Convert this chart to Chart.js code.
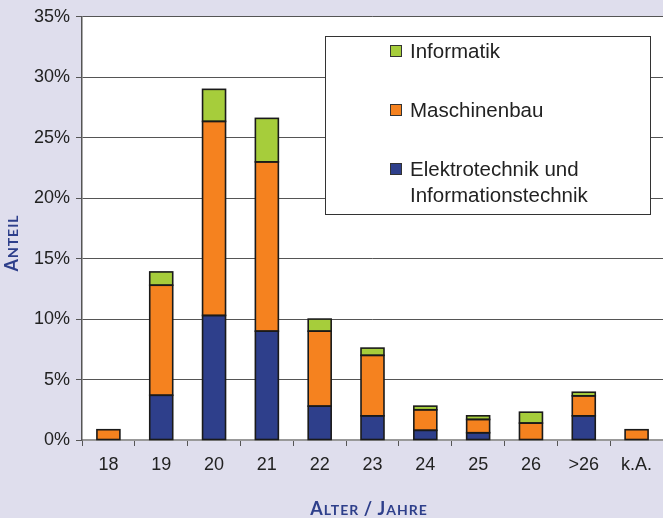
<!DOCTYPE html>
<html>
<head>
<meta charset="utf-8">
<script src="https://cdn.jsdelivr.net/npm/chart.js@4"></script>
<style>
  html, body { margin: 0; padding: 0; background: #dfdeed; }
  #wrap { width: 663px; height: 518px; }
</style>
</head>
<body>
<div id="wrap"><canvas id="ALTERCHART"></canvas></div>
<script>
const alter = ['18', '19', '20', '21', '22', '23', '24', '25', '26', '>26', 'k.A.'];
const elektro = [0, 3.7, 10.3, 9.0, 2.8, 2.0, 0.8, 0.6, 0, 2.0, 0];
const maschinenbau = [0.85, 9.1, 16.05, 14.0, 6.2, 5.0, 1.7, 1.1, 1.4, 1.65, 0.85];
const informatik = [0, 1.1, 2.65, 3.6, 1.0, 0.6, 0.3, 0.3, 0.9, 0.3, 0];
const yTicks = [0, 5, 10, 15, 20, 25, 30, 35];

const BLAU = '#2e3f8b';
const ORANGE = '#f5821f';
const GRUEN = '#a6cd3b';
const TITELBLAU = '#2e3f8b';
const RAND = '#1a1a1a';

// Kapitaelchen von Hand: erster Buchstabe gross, Rest klein
function kapitaelchen(ctx, text, x, y, gross, klein) {
  const teile = [];
  text.split(' ').forEach((wort, wi) => {
    if (wi > 0) teile.push({ t: ' ', s: klein });
    teile.push({ t: wort.charAt(0).toUpperCase(), s: gross });
    if (wort.length > 1) teile.push({ t: wort.slice(1).toUpperCase(), s: klein });
  });
  ctx.letterSpacing = '1px';
  let breite = 0;
  teile.forEach(p => {
    ctx.font = 'bold ' + p.s + 'px Lato';
    p.w = ctx.measureText(p.t).width;
    breite += p.w;
  });
  let cx = x - breite / 2;
  ctx.textBaseline = 'alphabetic';
  ctx.textAlign = 'left';
  teile.forEach(p => {
    ctx.font = 'bold ' + p.s + 'px Lato';
    ctx.fillText(p.t, cx, y);
    cx += p.w;
  });
}

// weisse Zeichenflaeche
const plotBg = {
  id: 'plotBg',
  beforeDraw(chart) {
    const { ctx, chartArea: a } = chart;
    ctx.save();
    ctx.fillStyle = '#ffffff';
    ctx.fillRect(a.left, a.top, a.right - a.left, a.bottom - a.top);
    ctx.restore();
  }
};

// Achsentitel
const achsenTitel = {
  id: 'achsenTitel',
  afterDraw(chart) {
    const ctx = chart.ctx;
    ctx.save();
    ctx.fillStyle = TITELBLAU;
    kapitaelchen(ctx, 'Alter / Jahre', 369, 515, 18, 14);
    ctx.translate(18, 243);
    ctx.rotate(-Math.PI / 2);
    kapitaelchen(ctx, 'Anteil', 0, 0, 18, 14);
    ctx.restore();
  }
};

// Legende als Kasten im Diagramm, oben Informatik
const kastenLegende = {
  id: 'kastenLegende',
  afterDraw(chart) {
    const ctx = chart.ctx;
    const ds = chart.data.datasets;
    ctx.save();
    ctx.fillStyle = '#ffffff';
    ctx.fillRect(325.5, 36.5, 325, 178);
    ctx.strokeStyle = '#333333';
    ctx.lineWidth = 1;
    ctx.strokeRect(325.5, 36.5, 325, 178);
    ctx.font = '20.5px "Liberation Sans"';
    ctx.textBaseline = 'middle';
    const zeilen = [
      { d: ds[2], y: [51] },
      { d: ds[1], y: [110] },
      { d: ds[0], y: [169, 195] }
    ];
    zeilen.forEach(z => {
      ctx.fillStyle = z.d.backgroundColor;
      ctx.fillRect(390, z.y[0] - 6, 12, 12);
      ctx.strokeStyle = '#333333';
      ctx.strokeRect(390.5, z.y[0] - 5.5, 11, 11);
      ctx.fillStyle = '#222222';
      const teile = Array.isArray(z.d.legendText) ? z.d.legendText : [z.d.label];
      teile.forEach((t, i) => ctx.fillText(t, 410, z.y[i] + 1));
    });
    ctx.restore();
  }
};

// Balkenumrisse nachziehen (Chart.js-Rand liegt innen und wird bei 0 zur Linie)
const umriss = {
  id: 'umriss',
  afterDatasetsDraw(chart) {
    const ctx = chart.ctx;
    ctx.save();
    ctx.strokeStyle = RAND;
    ctx.lineWidth = 1.6;
    chart.data.datasets.forEach((d, i) => {
      chart.getDatasetMeta(i).data.forEach((bar, j) => {
        if (!d.data[j]) return;
        const p = bar.getProps(['x', 'y', 'base', 'width'], true);
        const top = Math.min(p.y, p.base);
        const h = Math.abs(p.base - p.y);
        ctx.strokeRect(p.x - p.width / 2, top, p.width, h);
      });
    });
    ctx.restore();
  }
};

const ctx = document.getElementById('ALTERCHART');

new Chart(ctx, {
  type: 'bar',
  data: {
    labels: alter,
    datasets: [{
      label: 'Elektrotechnik und Informationstechnik',
      legendText: ['Elektrotechnik und', 'Informationstechnik'],
      data: elektro,
      backgroundColor: BLAU,
      borderWidth: 0,
      categoryPercentage: 1,
      barPercentage: 0.435
    }, {
      label: 'Maschinenbau',
      data: maschinenbau,
      backgroundColor: ORANGE,
      borderWidth: 0,
      categoryPercentage: 1,
      barPercentage: 0.435
    }, {
      label: 'Informatik',
      data: informatik,
      backgroundColor: GRUEN,
      borderWidth: 0,
      categoryPercentage: 1,
      barPercentage: 0.435
    }]
  },
  options: {
    responsive: true,
    maintainAspectRatio: false,
    animation: false,
    layout: { padding: { top: 15, left: 0, right: 0, bottom: 0 } },
    plugins: {
      legend: { display: false },
      tooltip: { enabled: false }
    },
    scales: {
      x: {
        stacked: true,
        afterFit(scale) { scale.height = 78; },
        grid: {
          offset: true,
          drawOnChartArea: false,
          drawTicks: true,
          tickLength: 6,
          color: '#555555'
        },
        border: { color: '#999999', width: 2 },
        ticks: {
          color: '#222222',
          padding: 8,
          font: { family: '"Liberation Sans"', size: 18 }
        }
      },
      y: {
        stacked: true,
        min: 0,
        max: 35,
        afterFit(scale) { scale.width = 82; },
        afterBuildTicks(scale) { scale.ticks = yTicks.map(v => ({ value: v })); },
        grid: {
          color: '#555555',
          lineWidth: 1,
          tickLength: 6
        },
        border: { color: '#555555', width: 1.5 },
        ticks: {
          color: '#222222',
          padding: 6,
          font: { family: '"Liberation Sans"', size: 18 },
          callback: v => v + '%'
        }
      }
    }
  },
  plugins: [plotBg, umriss, achsenTitel, kastenLegende]
});
</script>
</body>
</html>
